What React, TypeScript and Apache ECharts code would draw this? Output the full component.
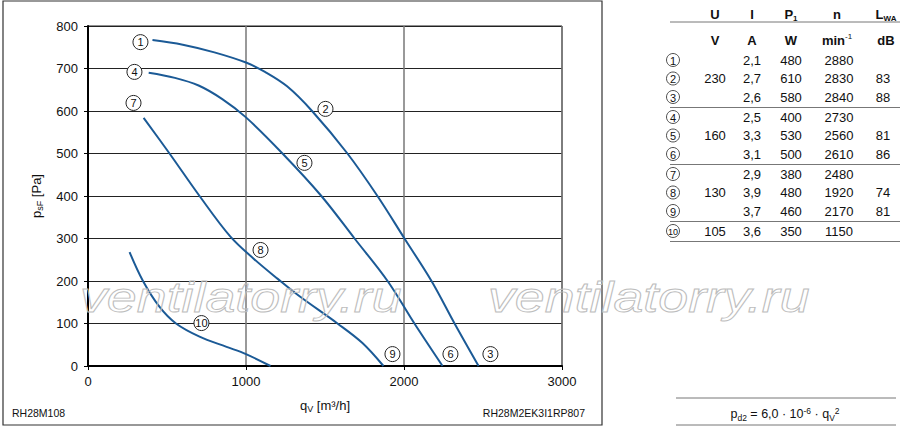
import React, { useEffect, useRef } from 'react';
import * as echarts from 'echarts';

const FONT = '"Liberation Sans", Arial, Helvetica, sans-serif';
const CURVE_COLOR = '#1b5a96';

// Fan curves: [q_V m³/h, p_sF Pa]
const curve230 = [[408, 767], [600, 756], [800, 738], [1000, 714], [1120, 692], [1260, 658], [1418, 600], [1642, 500], [1832, 400], [2003, 300], [2174, 200], [2320, 100], [2472, 0]];
const curve160 = [[384, 690], [550, 678], [700, 660], [850, 628], [1000, 585], [1231, 500], [1477, 400], [1687, 300], [1896, 200], [2066, 100], [2244, 0]];
const curve130 = [[352, 584], [516, 500], [706, 400], [900, 305], [1050, 252], [1201, 205], [1339, 164], [1579, 100], [1737, 54], [1870, 0]];
const curve105 = [[263, 268], [348, 200], [453, 139], [557, 100], [706, 69], [877, 45], [1000, 28], [1155, 0]];

// Operating point markers [q, p, id]
const pointMarks = [
  [332, 762, '1'], [1503, 605, '2'], [2547, 28, '3'],
  [294, 692, '4'], [1370, 478, '5'], [2294, 28, '6'],
  [288, 619, '7'], [1092, 273, '8'], [1927, 28, '9'],
  [718, 101, '10'],
];

// Table data
const pointIds = ['1', '2', '3', '4', '5', '6', '7', '8', '9', '10'];
const voltages = ['230', '160', '130', '105'];
const groupSizes = [3, 3, 3, 1];
const currents = ['2,1', '2,7', '2,6', '2,5', '3,3', '3,1', '2,9', '3,9', '3,7', '3,6'];
const powers = ['480', '610', '580', '400', '530', '500', '380', '480', '460', '350'];
const speeds = ['2880', '2830', '2840', '2730', '2560', '2610', '2480', '1920', '2170', '1150'];
const noise = ['', '83', '88', '', '81', '86', '', '74', '81', ''];
const headerTop = ['U', 'I', 'P{s|1}', 'n', 'L{s|WA}'];
const headerUnits = ['V', 'A', 'W', 'min{u|-1}', 'dB'];

const colX = { circ: 673, u: 715, i: 752, p: 791, n: 839, l: 886 };

function buildTable(): any[] {
  const els: any[] = [];
  const txt = (x: number, y: number, text: string, opts: any = {}) => ({
    type: 'text', x, y, silent: true,
    style: {
      text, fontFamily: FONT, fontSize: 13, fill: '#111',
      align: 'center', verticalAlign: 'middle', lineHeight: 16,
      rich: {
        s: { fontSize: 8, fontWeight: 'bold', verticalAlign: 'bottom', lineHeight: 9, fontFamily: FONT, fill: '#111' },
        u: { fontSize: 8, verticalAlign: 'top', lineHeight: 9, fontFamily: FONT, fill: '#111' },
      },
      ...opts,
    },
  });
  const hx = [colX.u, colX.i, colX.p, 837, colX.l];
  headerTop.forEach((h, k) => els.push(txt(hx[k], 14, h, { fontWeight: 'bold' })));
  headerUnits.forEach((h, k) => els.push(txt(hx[k], 40, h, { fontWeight: 'bold' })));
  const hline = (y: number) => ({
    type: 'line', silent: true,
    shape: { x1: 670, y1: y, x2: 900, y2: y },
    style: { stroke: '#777', lineWidth: 1 },
  });
  els.push(hline(22));
  const rowY = (i: number, g: number) => 60 + i * 18.5 + g * 1.5;
  let idx = 0;
  groupSizes.forEach((size, g) => {
    const first = idx;
    for (let k = 0; k < size; k++, idx++) {
      const y = rowY(idx, g);
      els.push({
        type: 'circle', silent: true,
        shape: { cx: colX.circ, cy: y, r: 6.5 },
        style: { fill: '#fff', stroke: '#222', lineWidth: 0.8 },
      });
      els.push(txt(colX.circ, y + 0.5, pointIds[idx], { fontSize: pointIds[idx].length > 1 ? 9 : 11, lineHeight: 12 }));
      els.push(txt(colX.i, y, currents[idx]));
      els.push(txt(colX.p, y, powers[idx]));
      els.push(txt(colX.n, y, speeds[idx]));
      if (noise[idx]) els.push(txt(colX.l - 3, y, noise[idx]));
    }
    const mid = first + Math.floor((size - 1) / 2);
    els.push(txt(colX.u, rowY(mid, g), voltages[g]));
    els.push(hline(rowY(idx - 1, g) + 10.5));
  });
  return els;
}

function buildDecor(): any[] {
  const els: any[] = [];
  els.push({
    type: 'rect', silent: true, z: -1,
    shape: { x: 3, y: 1, width: 599, height: 424 },
    style: { fill: 'rgba(0,0,0,0)', stroke: '#333', lineWidth: 1.2 },
  });
  [80, 488].forEach((x) => {
    els.push({
      type: 'text', silent: true, x, y: 297, scaleX: 1.28, z: 100,
      style: {
        text: 'ventilatorry.ru', fontFamily: FONT, fontStyle: 'italic', fontSize: 42,
        fill: 'rgba(255,255,255,0)', stroke: '#bdbdbd', lineWidth: 0.9,
        align: 'left', verticalAlign: 'middle',
      },
    });
  });
  els.push({
    type: 'text', silent: true, x: 12, y: 413,
    style: { text: 'RH28M108', fontFamily: FONT, fontSize: 10.5, fill: '#111', align: 'left', verticalAlign: 'middle' },
  });
  els.push({
    type: 'text', silent: true, x: 585, y: 413,
    style: { text: 'RH28M2EK3I1RP807', fontFamily: FONT, fontSize: 10.5, fill: '#111', align: 'right', verticalAlign: 'middle' },
  });
  [398, 425].forEach((y) => els.push({
    type: 'line', silent: true,
    shape: { x1: 676, y1: y, x2: 896, y2: y },
    style: { stroke: '#777', lineWidth: 1 },
  }));
  els.push({
    type: 'text', silent: true, x: 785, y: 414,
    style: {
      text: 'p{s|d2} = 6,0 · 10{u|-6} · q{s|V}{u|2}',
      fontFamily: FONT, fontSize: 12.5, fill: '#111', align: 'center', verticalAlign: 'middle', lineHeight: 16,
      rich: {
        s: { fontSize: 8.5, verticalAlign: 'bottom', lineHeight: 10, fontFamily: FONT, fill: '#111' },
        u: { fontSize: 8.5, verticalAlign: 'top', lineHeight: 10, fontFamily: FONT, fill: '#111' },
      },
    },
  });
  return els;
}

const lineSeries = (data: number[][]) => ({
  type: 'line', data, smooth: 0.35, showSymbol: false, silent: true,
  lineStyle: { color: CURVE_COLOR, width: 2 }, z: 3,
});

export default function App() {
  const ref = useRef<HTMLDivElement>(null);
  useEffect(() => {
    if (!ref.current) return;
    const chart = echarts.init(ref.current, null, { renderer: 'svg' });
    const nameRich = {
      s: { fontSize: 9, verticalAlign: 'bottom', lineHeight: 10, fontFamily: FONT, color: '#111' },
    };
    chart.setOption({
      animation: false,
      backgroundColor: '#fff',
      grid: { left: 88, right: 338, top: 26, bottom: 63, show: true, borderColor: '#222', borderWidth: 1 },
      xAxis: {
        type: 'value', min: 0, max: 3000, interval: 1000,
        axisLine: { show: true, onZero: false, lineStyle: { color: '#000', width: 2 } },
        axisTick: { show: true, length: 4, lineStyle: { color: '#000', width: 1 } },
        axisLabel: { color: '#111', fontSize: 13, fontFamily: FONT, margin: 9, formatter: (v: number) => String(v) },
        splitLine: { show: true, lineStyle: { color: '#777', width: 1.5 } },
        name: 'q{s|V} [m³/h]', nameLocation: 'middle', nameGap: 31,
        nameTextStyle: { color: '#111', fontSize: 13, fontFamily: FONT, lineHeight: 16, rich: nameRich },
      },
      yAxis: {
        type: 'value', min: 0, max: 800, interval: 100,
        axisLine: { show: true, onZero: false, lineStyle: { color: '#000', width: 2 } },
        axisTick: { show: true, length: 4, lineStyle: { color: '#000', width: 1 } },
        axisLabel: { color: '#111', fontSize: 13, fontFamily: FONT, margin: 10, formatter: (v: number) => String(v) },
        splitLine: { show: true, lineStyle: { color: '#222', width: 1 } },
        name: 'p{s|sF} [Pa]', nameLocation: 'middle', nameRotate: 90, nameGap: 44,
        nameTextStyle: { color: '#111', fontSize: 13, fontFamily: FONT, lineHeight: 16, rich: nameRich },
      },
      series: [
        lineSeries(curve230),
        lineSeries(curve160),
        lineSeries(curve130),
        lineSeries(curve105),
        {
          type: 'scatter', data: pointMarks, symbol: 'circle', symbolSize: 15, silent: true, z: 5,
          itemStyle: { color: '#fff', borderColor: '#222', borderWidth: 1, opacity: 1 },
          label: {
            show: true, position: 'inside', fontFamily: FONT, color: '#111',
            formatter: (p: any) => p.value[2],
            fontSize: 11,
          },
        },
      ],
      graphic: [...buildDecor(), ...buildTable()],
    });
    return () => chart.dispose();
  }, []);
  return <div ref={ref} style={{ position: 'absolute', left: 0, top: 0, width: 900, height: 429 }} />;
}
